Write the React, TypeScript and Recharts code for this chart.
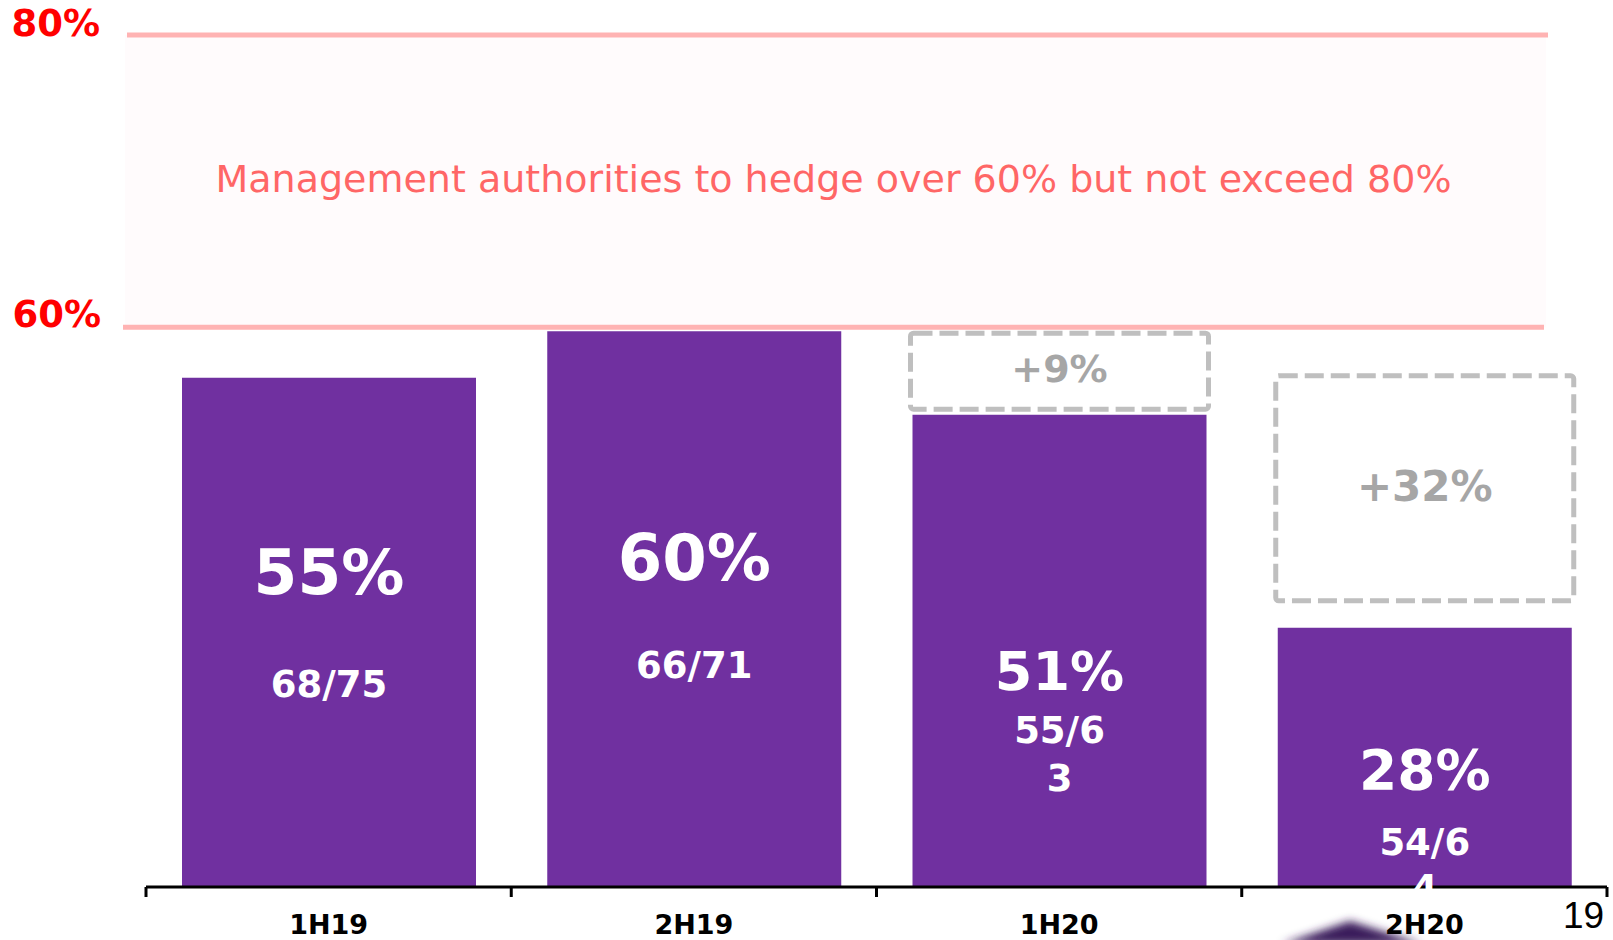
import React from 'react';
import { Bar, BarChart, LabelList, ReferenceArea, XAxis, YAxis } from 'recharts';

// values
const PERIODS = ['1H19', '2H19', '1H20', '2H20'];
const HEDGE_PCT = [55, 60, 51, 28];
const HEDGE_FRACTION = [['68/75'], ['66/71'], ['55/6', '3'], ['54/6', '4']];
// dashed "upside" boxes, bottom/top as drawn on the slide
const UPSIDE_LOW = [null, null, 51.6, 30.9];
const UPSIDE_HIGH = [null, null, 59.8, 55.2];
const UPSIDE_LABEL = [null, null, '+9%', '+32%'];
const BAND_LOW = 60;
const BAND_HIGH = 80;
const BAND_TEXT = 'Management authorities to hedge over 60% but not exceed 80%';

// label placement (fraction of bar height) and sizes
const PCT_POS = [0.3805, 0.405, 0.5406, 0.545];
const PCT_SIZE = [63, 64, 54, 55];
const FRACTION_POS = [0.6, 0.5995, 0.6655, 0.8265];
const FRACTION_GAP = [0, 0, 48, 46];
const UPSIDE_SIZE = [0, 0, 38, 42];

const FONT = '"DejaVu Sans", Verdana, sans-serif';
const PURPLE = '#7030a0';

const rows = PERIODS.map((period, i) => ({
  period,
  pct: HEDGE_PCT[i],
  upside: UPSIDE_LOW[i] == null ? null : [UPSIDE_LOW[i], UPSIDE_HIGH[i]],
  upsideLabel: UPSIDE_LABEL[i],
}));

function box(props: any) {
  const vb = props.viewBox ?? props;
  return { x: vb.x as number, y: vb.y as number, width: vb.width as number, height: vb.height as number };
}

function BarText(props: any) {
  const i = PERIODS.indexOf(props.value);
  if (i < 0) return null;
  const { x, y, width, height } = box(props);
  const cx = x + width / 2;
  const big = PCT_SIZE[i];
  const by = y + height * PCT_POS[i] + 0.3645 * big;
  const fy = y + height * FRACTION_POS[i] + 0.3645 * 37;
  return (
    <g fontFamily={FONT} fontWeight="bold" fill="#fff" textAnchor="middle">
      <text x={cx} y={by} fontSize={big}>
        {HEDGE_PCT[i]}%
      </text>
      <text x={cx} y={fy} fontSize={37}>
        {HEDGE_FRACTION[i].map((line, k) => (
          <tspan key={k} x={cx} dy={k ? FRACTION_GAP[i] : 0}>
            {line}
          </tspan>
        ))}
      </text>
    </g>
  );
}

function UpsideBox(props: any) {
  if (!props.payload || props.payload.upside == null) return <g />;
  const top = Math.min(props.y, props.y + props.height);
  const h = Math.abs(props.height);
  return (
    <rect
      x={props.x}
      y={top}
      width={props.width}
      height={h}
      rx={3}
      fill="none"
      stroke="#bfbfbf"
      strokeWidth={5}
      strokeDasharray="19 7"
    />
  );
}

function UpsideText(props: any) {
  const i = UPSIDE_LABEL.indexOf(props.value);
  if (i < 0 || props.value == null) return null;
  const { x, y, width, height } = box(props);
  const top = Math.min(y, y + height);
  const cy = top + Math.abs(height) / 2;
  const fs = UPSIDE_SIZE[i];
  return (
    <text
      x={x + width / 2}
      y={cy + 0.3645 * fs - 3}
      textAnchor="middle"
      fontFamily={FONT}
      fontWeight="bold"
      fontSize={fs}
      fill="#a6a6a6"
    >
      {props.value}
    </text>
  );
}

function HedgeBand(props: any) {
  const { x, width } = props;
  const y = Math.min(props.y, props.y + props.height);
  const height = Math.abs(props.height);
  const left = x - 21;
  const right = x + width - 61;
  const bottom = y + height;
  return (
    <g fontFamily={FONT}>
      <rect x={left} y={y} width={right - left} height={height} fill="#fffbfc" />
      <line x1={left + 2} x2={right + 2} y1={y} y2={y} stroke="#ffb3b3" strokeWidth={5} />
      <line x1={left - 2} x2={right - 2} y1={bottom} y2={bottom} stroke="#ffb3b3" strokeWidth={5} />
      <text x={left - 25} y={y + 1} textAnchor="end" fontWeight="bold" fontSize={37} fill="#ff0000">
        {BAND_HIGH}%
      </text>
      <text x={left - 24} y={bottom} textAnchor="end" fontWeight="bold" fontSize={37} fill="#ff0000">
        {BAND_LOW}%
      </text>
      <text x={(left + right) / 2 - 2} y={y + 157} textAnchor="middle" fontSize={38} fill="#ff6666">
        {BAND_TEXT}
      </text>
    </g>
  );
}

function PeriodTick(props: any) {
  const { x, y, payload, index, visibleTicksCount, width } = props;
  const half = width / visibleTicksCount / 2;
  const axisY = y - 10;
  const last = index === visibleTicksCount - 1;
  return (
    <g>
      <line x1={x - half} x2={x - half} y1={axisY} y2={axisY + 10} stroke="#000" strokeWidth={3} />
      {last && <line x1={x + half} x2={x + half} y1={axisY} y2={axisY + 10} stroke="#000" strokeWidth={3} />}
      <text x={x} y={axisY + 47} textAnchor="middle" fontFamily={FONT} fontWeight="bold" fontSize={27} fill="#000">
        {payload.value}
      </text>
    </g>
  );
}

export default function App() {
  return (
    <div style={{ position: 'fixed', left: 0, top: 0, width: 1613, height: 940, background: '#fff', overflow: 'hidden' }}>
      <svg width={1613} height={940} style={{ position: 'absolute', left: 0, top: 0 }}>
        <defs>
          <filter id="soft" x="-50%" y="-50%" width="200%" height="200%">
            <feGaussianBlur stdDeviation="4" />
          </filter>
        </defs>
        <polygon points="1282,944 1350,921 1422,944" fill="#3a1a5c" filter="url(#soft)" />
        <text x={1563} y={928} fontFamily='"Liberation Sans", Arial, sans-serif' fontSize={37} fill="#000">
          19
        </text>
      </svg>
      <div style={{ position: 'absolute', left: 0, top: 0 }}>
        <BarChart width={1613} height={940} data={rows} margin={{ top: 35, right: 6, bottom: 0, left: 146 }}>
          <XAxis
            xAxisId="cat"
            dataKey="period"
            height={53}
            interval={0}
            tickLine={false}
            tickSize={10}
            tickMargin={0}
            axisLine={{ stroke: '#000', strokeWidth: 3 }}
            tick={<PeriodTick />}
          />
          <XAxis xAxisId="box" dataKey="period" hide height={0} />
          <YAxis yAxisId="val" domain={[0, 92]} allowDataOverflow hide width={0} />
          <YAxis yAxisId="band" domain={[21.7, 80]} allowDataOverflow hide width={0} />
          <ReferenceArea
            xAxisId="cat"
            yAxisId="band"
            y1={BAND_LOW}
            y2={BAND_HIGH}
            ifOverflow="visible"
            shape={(p: any) => <HedgeBand {...p} />}
          />
          <Bar xAxisId="cat" yAxisId="val" dataKey="pct" fill={PURPLE} barSize={294} isAnimationActive={false}>
            <LabelList dataKey="period" content={(p: any) => <BarText {...p} />} />
          </Bar>
          <Bar
            xAxisId="box"
            yAxisId="val"
            dataKey="upside"
            barSize={298}
            isAnimationActive={false}
            shape={(p: any) => <UpsideBox {...p} />}
          >
            <LabelList dataKey="upsideLabel" content={(p: any) => <UpsideText {...p} />} />
          </Bar>
        </BarChart>
      </div>
    </div>
  );
}
